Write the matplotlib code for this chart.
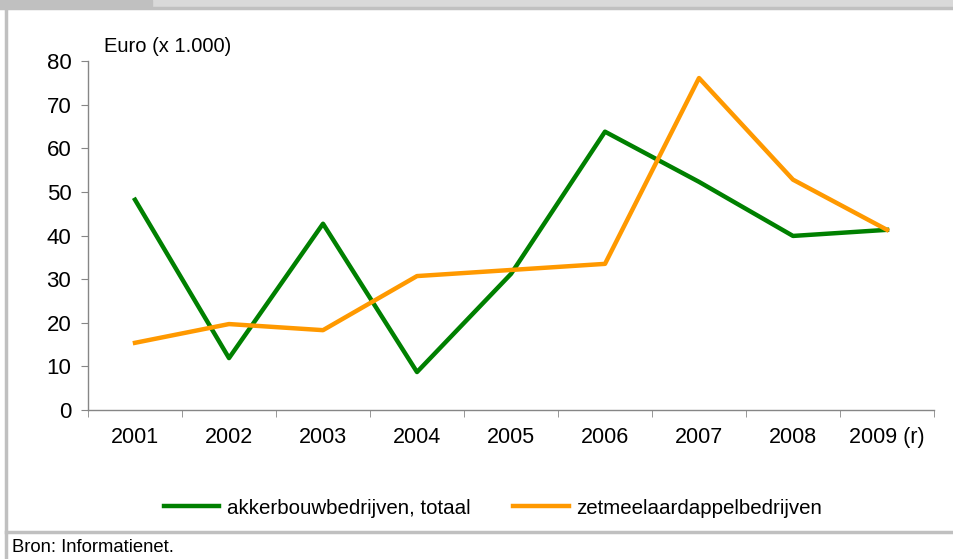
import matplotlib.pyplot as plt
from matplotlib.patches import Rectangle
from matplotlib.lines import Line2D

plt.rcParams['font.family'] = ['Liberation Sans', 'DejaVu Sans']

years = ['2001', '2002', '2003', '2004', '2005', '2006', '2007', '2008', '2009 (r)']
akkerbouw = [48.2, 11.9, 42.7, 8.7, 31.2, 63.8, 52.3, 39.9, 41.3]
zetmeel = [15.4, 19.7, 18.3, 30.7, 32.1, 33.5, 76.1, 52.8, 41.3]

fig = plt.figure(figsize=(9.54, 5.59), dpi=100)
ax = fig.add_axes([88/954, 1 - 410/559, 846/954, 349/559])

x = range(len(years))
ax.plot(x, akkerbouw, color='#008000', lw=3.2, label='akkerbouwbedrijven, totaal')
ax.plot(x, zetmeel, color='#FF9900', lw=3.2, label='zetmeelaardappelbedrijven')

ax.set_xlim(-0.5, len(years) - 0.5)
ax.set_ylim(0, 80)
ax.set_yticks(range(0, 81, 10))
ax.set_xticks(list(x))
ax.set_xticklabels(years)
ax.set_xticks([i - 0.5 for i in range(len(years) + 1)], minor=True)
ax.tick_params(axis='x', which='major', length=0, labelsize=15.5, pad=12)
ax.tick_params(axis='x', which='minor', length=5, color='#868686', direction='out')
ax.tick_params(axis='y', length=5, color='#868686', labelsize=16, pad=7)
for s in ['top', 'right']:
    ax.spines[s].set_visible(False)
for s in ['left', 'bottom']:
    ax.spines[s].set_color('#868686')
    ax.spines[s].set_linewidth(1)

fig.text(104/954, 1 - 47/559, 'Euro (x 1.000)', fontsize=14.5, va='center', ha='left')

fig.legend(loc='center', bbox_to_anchor=(493/954, 1 - 508/559), ncol=2,
           frameon=False, fontsize=14.8, handlelength=2.7, handletextpad=0.35,
           columnspacing=2.1)

# frame around the figure
fig.patches.append(Rectangle((0, 1 - 6/559), 1, 6/559, transform=fig.transFigure,
                             color='#d9d9d9', zorder=0))
fig.patches.append(Rectangle((0, 1 - 6/559), 152/954, 6/559, transform=fig.transFigure,
                             color='#c0c0c0', zorder=0))
fig.lines.append(Line2D([0, 1], [1 - 7.5/559] * 2, transform=fig.transFigure,
                        color='#c0c0c0', lw=2.5))
fig.lines.append(Line2D([6.5/954] * 2, [0, 1 - 6/559], transform=fig.transFigure,
                        color='#c0c0c0', lw=2.5))
fig.lines.append(Line2D([6.5/954, 1], [1 - 532/559] * 2, transform=fig.transFigure,
                        color='#c0c0c0', lw=2.5))

fig.text(12/954, 1 - 548/559, 'Bron: Informatienet.', fontsize=13.3, va='center', ha='left')

fig.savefig('out.png', dpi=100)
